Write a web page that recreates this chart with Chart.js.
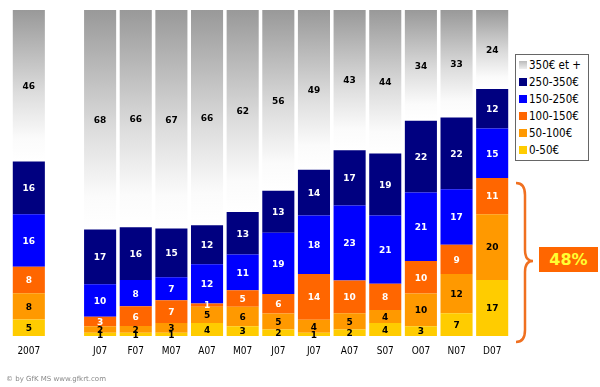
<!DOCTYPE html>
<html>
<head>
<meta charset="utf-8">
<script src="https://cdn.jsdelivr.net/npm/chart.js@4/dist/chart.umd.min.js"></script>
<style>
  body { margin: 0; background: #fff; }
  #wrap { position: relative; width: 600px; height: 387px; }
  #legend {
    position: absolute; left: 515px; top: 54px; width: 74px; height: 107px;
    border: 1px solid #666; background: #fff;
    font-family: "DejaVu Sans Condensed", "DejaVu Sans", sans-serif; font-size: 11.5px;
    padding-top: 2px; box-sizing: border-box;
  }
  #legend div { height: 17px; line-height: 17px; padding-left: 3px; white-space: nowrap; color: #000; }
  #legend span { display: inline-block; width: 8px; height: 8px; margin-right: 2px; vertical-align: -0px; }
  #pct {
    position: absolute; left: 539px; top: 247px; width: 59px; height: 25px;
    background: #ff6600; color: #ffff33; font: bold 16px "DejaVu Sans", sans-serif;
    text-align: center; line-height: 25px;
  }
  #credit {
    position: absolute; left: 6px; top: 375px; color: #888;
    font: 7px "DejaVu Sans", sans-serif;
  }
  svg { position: absolute; left: 0; top: 0; }
</style>
</head>
<body>
<div id="wrap">
  <canvas id="chart" width="600" height="387"></canvas>
  <svg width="600" height="387">
    <path d="M516,183 Q525,183 525,195 L525,250 Q525,261 533,261 Q525,261 525,272 L525,330 Q525,342 516,342"
          fill="none" stroke="#f07020" stroke-width="2.5"/>
  </svg>
  <div id="legend"></div>
  <div id="pct">48%</div>
  <div id="credit">© by GfK MS www.gfkrt.com</div>
</div>
<script>
// categories (empty slot keeps the gap after the yearly bar)
const labels = ['2007', '', 'J07', 'F07', 'M07', 'A07', 'M07', 'J07', 'J07', 'A07', 'S07', 'O07', 'N07', 'D07'];

// shares in %
const s0to50    = [5, null, 1, 1, 1, 4, 3, 2, 1, 2, 4, 3, 7, 17];
const s50to100  = [8, null, 2, 2, 3, 5, 6, 5, 4, 5, 4, 10, 12, 20];
const s100to150 = [8, null, 3, 6, 7, 1, 5, 6, 14, 10, 8, 10, 9, 11];
const s150to250 = [16, null, 10, 8, 7, 12, 11, 19, 18, 23, 21, 21, 17, 15];
const s250to350 = [16, null, 17, 16, 15, 12, 13, 13, 14, 17, 19, 22, 22, 12];
const s350plus  = [46, null, 68, 66, 67, 66, 62, 56, 49, 43, 44, 34, 33, 24];

const seriesNames = ['0-50€', '50-100€', '100-150€', '150-250€', '250-350€', '350€ et +'];
const seriesData = [s0to50, s50to100, s100to150, s150to250, s250to350, s350plus];
const colors = ['#ffcc00', '#ff9900', '#ff6600', '#0000ff', '#000080', '#b0b0b0'];
const textColors = ['#000', '#000', '#fff', '#fff', '#fff', '#000'];

// totals so every bar fills 100%
const totals = labels.map((l, i) => seriesData.reduce((a, s) => a + (s[i] || 0), 0));

function grayGradient(ctx) {
  const chart = ctx.chart;
  const i = ctx.dataIndex;
  if (!chart.chartArea || i == null || !totals[i]) return '#bbbbbb';
  const y = chart.scales.y;
  const top = y.getPixelForValue(100);
  const bottom = y.getPixelForValue(100 - s350plus[i] / totals[i] * 100);
  if (!isFinite(top) || !isFinite(bottom)) return '#bbbbbb';
  const g = chart.ctx.createLinearGradient(0, top, 0, bottom);
  g.addColorStop(0, '#999999');
  g.addColorStop(0.55, '#dddddd');
  g.addColorStop(0.85, '#fbfbfb');
  g.addColorStop(1, '#ffffff');
  return g;
}

const datasets = seriesData.map((s, k) => ({
  label: seriesNames[k],
  data: s.map((v, i) => v == null ? null : v / totals[i] * 100),
  raw: s,
  backgroundColor: k === 5 ? grayGradient : colors[k],
  borderWidth: 0,
  barPercentage: 0.9,
  categoryPercentage: 1
}));

// value labels in the middle of each segment
const segmentLabels = {
  id: 'segmentLabels',
  afterDatasetsDraw(chart) {
    const c = chart.ctx;
    c.save();
    c.font = 'bold 9px "DejaVu Sans", sans-serif';
    c.textAlign = 'center';
    c.textBaseline = 'middle';
    chart.data.datasets.forEach((ds, k) => {
      const meta = chart.getDatasetMeta(k);
      meta.data.forEach((bar, i) => {
        const v = ds.raw[i];
        if (v == null) return;
        c.fillStyle = textColors[k];
        c.fillText(v, bar.x, (bar.y + bar.base) / 2 + 1);
      });
    });
    c.restore();
  }
};

new Chart(document.getElementById('chart'), {
  type: 'bar',
  data: { labels: labels, datasets: datasets },
  plugins: [segmentLabels],
  options: {
    responsive: false,
    animation: false,
    layout: { padding: { left: 11, right: 90, top: 10, bottom: 29 } },
    plugins: { legend: { display: false }, tooltip: { enabled: false } },
    scales: {
      x: {
        stacked: true,
        grid: { display: false },
        border: { display: false },
        ticks: { color: '#000', font: { family: 'DejaVu Sans Condensed', size: 10 }, padding: 1, maxRotation: 0, autoSkip: false }
      },
      y: {
        stacked: true,
        display: false,
        min: 0,
        max: 100
      }
    }
  }
});

// legend, top series first
const legend = document.getElementById('legend');
for (let k = seriesNames.length - 1; k >= 0; k--) {
  const row = document.createElement('div');
  const sw = k === 5 ? 'linear-gradient(#bbb, #eee)' : colors[k];
  row.innerHTML = `<span style="background:${sw}"></span>${seriesNames[k]}`;
  legend.appendChild(row);
}
</script>
</body>
</html>
